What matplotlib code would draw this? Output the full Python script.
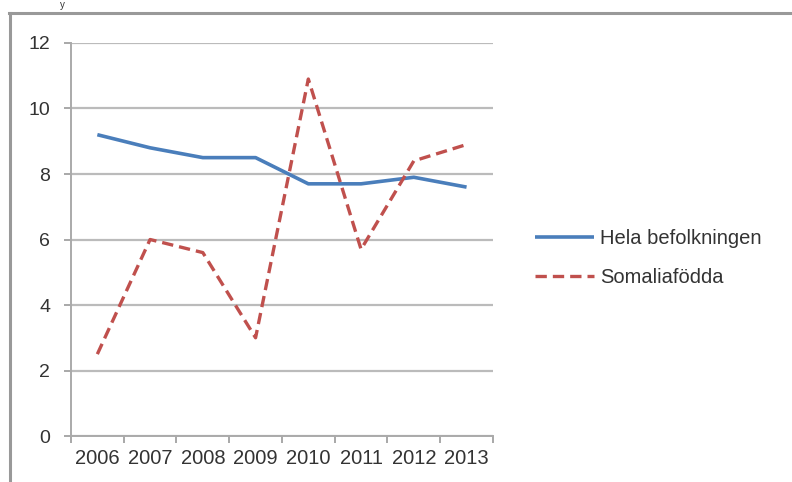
import numpy as np
import matplotlib.pyplot as plt
from matplotlib.lines import Line2D

plt.rcParams['font.family'] = ['Liberation Sans', 'DejaVu Sans']

years = ['2006', '2007', '2008', '2009', '2010', '2011', '2012', '2013']
hela = [9.2, 8.8, 8.5, 8.5, 7.7, 7.7, 7.9, 7.6]
somalia = [2.5, 6.0, 5.6, 3.0, 10.9, 5.7, 8.4, 8.9]

fig = plt.figure(figsize=(7.92, 4.82), dpi=100)
ax = fig.add_axes([0.0896, 0.0954, 0.5328, 0.8154])

x = np.arange(len(years)) + 0.5
ax.plot(x, hela, color='#4a7ebb', lw=2.6, solid_capstyle='butt', label='Hela befolkningen')
ax.plot(x, somalia, color='#c0504d', lw=2.4, ls=(0, (3.4, 1.8)), label='Somaliafödda')

ax.set_xlim(0, len(years))
ax.set_ylim(0, 12)
ax.set_yticks(range(0, 13, 2))
ax.set_xticks(range(len(years) + 1))
ax.set_xticklabels([])
ax.set_xticks(x, minor=True)
ax.set_xticklabels(years, minor=True)
ax.tick_params(axis='x', which='minor', length=0, pad=9, labelsize=14.5, labelcolor='#333333')
ax.tick_params(axis='x', which='major', length=5, width=1.2, color='#999999')
ax.tick_params(axis='y', length=5, width=1.2, color='#999999', pad=10,
               labelsize=14, labelcolor='#333333')

ax.grid(axis='y', color='#bbbbbb', lw=1.6)
ax.set_axisbelow(True)
for s in ['top', 'right']:
    ax.spines[s].set_visible(False)
for s in ['left', 'bottom']:
    ax.spines[s].set_color('#aaaaaa')
    ax.spines[s].set_linewidth(1.4)

leg = fig.legend(loc='center left', bbox_to_anchor=(0.653, 0.465), frameon=False,
                 fontsize=14.5, handlelength=2.9, handletextpad=0.3, labelspacing=1.0)
for t in leg.get_texts():
    t.set_color('#333333')

# outer frame (top and left edges only)
fig.add_artist(Line2D([9 / 792, 1.0], [1 - 13 / 482, 1 - 13 / 482], color='#999999', lw=2.2,
                      transform=fig.transFigure))
fig.add_artist(Line2D([10 / 792, 10 / 792], [0.0, 1 - 13 / 482], color='#999999', lw=2.2,
                      transform=fig.transFigure))
fig.text(60 / 792, 0.999, 'y', fontsize=7, color='#333333', va='top', ha='left')

fig.savefig('out.png', dpi=100)
